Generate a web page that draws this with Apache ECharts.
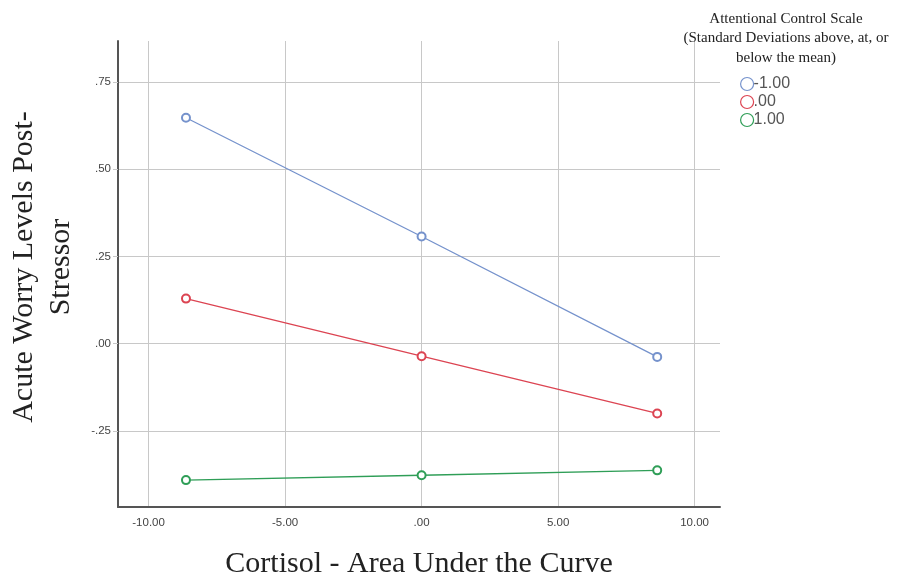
<!DOCTYPE html>
<html>
<head>
<meta charset="utf-8">
<script src="https://cdn.jsdelivr.net/npm/echarts@6/dist/echarts.min.js"></script>
<style>
html,body{margin:0;padding:0;background:#fff;}
#chart{width:898px;height:579px;}
</style>
</head>
<body>
<div id="chart"></div>
<script>
// Data
const xValues = [-8.63, 0, 8.63];
const seriesNames = ['-1.00', '.00', '1.00'];
const lowACS = [0.647, 0.307, -0.038];   // -1.00 SD
const meanACS = [0.129, -0.036, -0.200]; // .00
const highACS = [-0.391, -0.377, -0.363]; // 1.00 SD
const xTicks = [-10, -5, 0, 5, 10];
const yTicks = [-0.25, 0, 0.25, 0.5, 0.75];
const colors = ['#7592cc', '#dc4452', '#2f9e57'];

function fmt(v, d) {
  let s = Math.abs(v).toFixed(d);
  if (s.startsWith('0')) s = s.slice(1);
  return (v < 0 ? '-' : '') + s;
}

const chart = echarts.init(document.getElementById('chart'), null, {renderer: 'canvas'});
const values = [lowACS, meanACS, highACS];
const series = values.map((arr, i) => ({
  name: seriesNames[i],
  type: 'line',
  data: xValues.map((x, j) => [x, arr[j]]),
  symbol: 'emptyCircle',
  symbolSize: 8,
  lineStyle: {color: colors[i], width: 1.3},
  itemStyle: {color: colors[i], borderColor: colors[i], borderWidth: 1.2},
  emphasis: {disabled: true},
  animation: false
}));

chart.setOption({
  animation: false,
  color: colors,
  title: {
    text: 'Attentional Control Scale\n(Standard Deviations above, at, or\nbelow the mean)',
    left: 786,
    top: 9,
    padding: 0,
    textAlign: 'center',
    textStyle: {fontFamily: 'Liberation Serif', fontSize: 15, fontWeight: 'normal', color: '#222', lineHeight: 19.5}
  },
  legend: {
    orient: 'vertical',
    left: 740,
    top: 75,
    padding: 0,
    itemWidth: 13,
    itemHeight: 13,
    itemGap: 0,
    icon: 'circle',
    data: seriesNames.map((n, i) => ({
      name: n,
      itemStyle: {color: '#fff', borderColor: colors[i], borderWidth: 1.2}
    })),
    textStyle: {fontFamily: 'Liberation Sans', fontSize: 16, lineHeight: 18, color: '#555', padding: [0, 0, 0, -5]}
  },
  grid: {left: 118, right: 178, top: 41, bottom: 72, containLabel: false, outerBoundsMode: 'none'},
  xAxis: {
    type: 'value',
    min: -11.12,
    max: 10.93,
    name: 'Cortisol - Area Under the Curve',
    nameLocation: 'middle',
    nameGap: 42,
    nameTextStyle: {fontFamily: 'Liberation Serif', fontSize: 30, color: '#222'},
    axisLine: {show: true, onZero: false, lineStyle: {color: '#555', width: 2}},
    axisTick: {show: false, customValues: xTicks},
    axisLabel: {customValues: xTicks, margin: 10, fontFamily: 'Liberation Sans', fontSize: 11.5, color: '#444', formatter: v => fmt(v, 2)},
    splitLine: {show: true, lineStyle: {color: '#c8c8c8', width: 1}}
  },
  yAxis: {
    type: 'value',
    min: -0.468,
    max: 0.867,
    name: 'Acute Worry Levels Post-\nStressor',
    nameLocation: 'middle',
    nameRotate: 90,
    nameGap: 38,
    nameTextStyle: {fontFamily: 'Liberation Serif', fontSize: 30, color: '#222', lineHeight: 37, align: 'center', padding: [0, 0, 0, 14]},
    axisLine: {show: true, onZero: false, lineStyle: {color: '#555', width: 2}},
    axisTick: {show: true, customValues: yTicks, length: 5, lineStyle: {color: '#c8c8c8'}},
    axisLabel: {customValues: yTicks, margin: 7, fontFamily: 'Liberation Sans', fontSize: 11.5, color: '#444', formatter: v => fmt(v, 2)},
    splitLine: {show: true, lineStyle: {color: '#c8c8c8', width: 1}}
  },
  series: series
});
</script>
</body>
</html>
